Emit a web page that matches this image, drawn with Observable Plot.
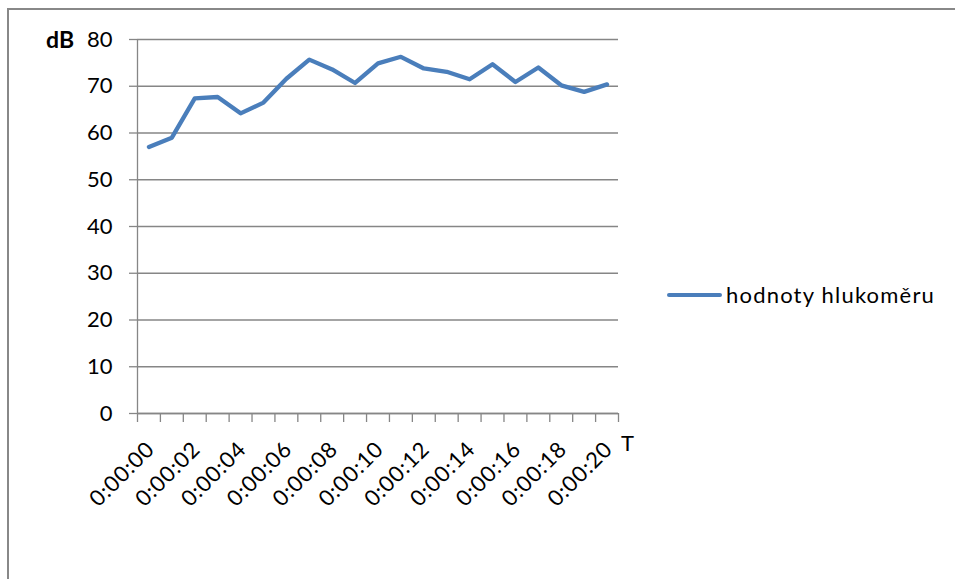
<!DOCTYPE html>
<html><head><meta charset="utf-8">
<script src="https://cdn.jsdelivr.net/npm/d3@7"></script>
<script src="https://cdn.jsdelivr.net/npm/@observablehq/plot@0.6"></script>
<style>
body{margin:0;background:#fff;font-family:Lato,sans-serif;}
#wrap{position:relative;width:955px;height:579px;overflow:hidden;background:#fff;}
#frame{position:absolute;left:7px;top:8px;width:1200px;height:1200px;border-left:2.5px solid #888;border-top:2.5px solid #888;box-sizing:border-box;}
#chart{position:absolute;left:0;top:0;}
#chart svg g[aria-label="text"] text{letter-spacing:0.9px;}
.lbl{position:absolute;font-family:Lato,sans-serif;color:#000;white-space:nowrap;}
#ylab{left:46px;top:25px;font-size:23px;font-weight:bold;}
#xlab{left:621px;top:429px;font-size:22px;}
#legend{left:667px;top:281px;font-size:22px;letter-spacing:1.2px;display:flex;align-items:center;}
#legend .sw{width:55px;height:4px;background:#4a7ebb;border-radius:2px;margin-right:4px;}
</style>
</head><body>
<div id="wrap">
  <div id="frame"></div>
  <div id="chart"></div>
  <div class="lbl" id="ylab">dB</div>
  <div class="lbl" id="xlab">T</div>
  <div class="lbl" id="legend"><span class="sw"></span><span id="legtext"></span></div>
</div>
<script>
const times = ["0:00:00","0:00:01","0:00:02","0:00:03","0:00:04","0:00:05","0:00:06","0:00:07","0:00:08","0:00:09","0:00:10","0:00:11","0:00:12","0:00:13","0:00:14","0:00:15","0:00:16","0:00:17","0:00:18","0:00:19","0:00:20"];
const values = [57.0, 59.0, 67.4, 67.7, 64.2, 66.5, 71.6, 75.7, 73.6, 70.7, 74.9, 76.3, 73.8, 73.1, 71.5, 74.7, 70.9, 74.0, 70.2, 68.8, 70.4];
const yTicks = [0, 10, 20, 30, 40, 50, 60, 70, 80];
const seriesName = "hodnoty hlukoměru";
const yLabel = "dB";
const xLabel = "T";

document.getElementById("legtext").textContent = seriesName;
document.getElementById("ylab").textContent = yLabel;
document.getElementById("xlab").textContent = xLabel;

const data = times.map((t, i) => ({pos: i + 0.5, t, v: values[i], i}));
const gray = "#868686";

const chart = Plot.plot({
  width: 955, height: 579,
  marginLeft: 137, marginRight: 337, marginTop: 39, marginBottom: 166,
  x: {domain: [0, times.length]},
  y: {domain: [0, 80]},
  style: {fontFamily: "Lato, sans-serif", fontSize: "22px", color: "#000", background: "transparent"},
  marks: [
    Plot.gridY({ticks: yTicks, stroke: gray, strokeOpacity: 1, strokeWidth: 1.3}),
    Plot.axisY({ticks: yTicks, tickSize: 8, tickPadding: 17, stroke: gray, strokeWidth: 1.3, strokeOpacity: 1, label: null, fontSize: 22}),
    Plot.axisX({ticks: d3.range(times.length + 1), tickSize: 9, tickFormat: () => "", label: null, stroke: gray, strokeWidth: 1.3, strokeOpacity: 1}),
    Plot.ruleX([0], {stroke: gray, strokeWidth: 1.3}),
    Plot.ruleY([0], {stroke: gray, strokeWidth: 1.3}),
    Plot.line(data, {x: "pos", y: "v", stroke: "#4a7ebb", strokeWidth: 4.3, strokeLinejoin: "round", strokeLinecap: "round"}),
    Plot.text(data.filter(d => d.i % 2 === 0), {x: "pos", y: d => 0, text: "t", rotate: -45, textAnchor: "end", lineAnchor: "middle", dx: 2, dy: 32, fontSize: 22, fill: "#000"})
  ]
});
document.getElementById("chart").appendChild(chart);
</script>
</body></html>
